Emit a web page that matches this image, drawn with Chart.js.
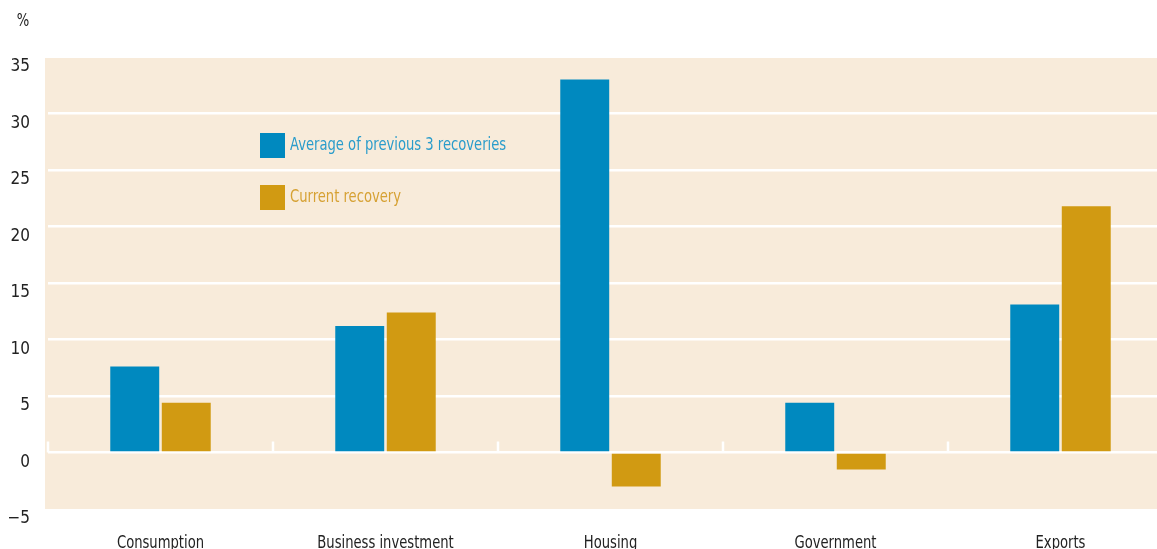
<!DOCTYPE html>
<html>
<head>
<meta charset="utf-8">
<script src="https://cdn.jsdelivr.net/npm/chart.js@4.4.1/dist/chart.umd.min.js"></script>
<style>
  html, body { margin: 0; padding: 0; background: #fff; overflow: hidden; }
  #wrap { position: relative; width: 1190px; height: 562px; }
</style>
</head>
<body>
<div id="wrap"><canvas id="recoveryChart"></canvas></div>
<script>
// components of GDP growth, % change since the trough
const categories = ["Consumption", "Business investment", "Housing", "Government", "Exports"];
const previousRecoveries = [7.6, 11.2, 33.0, 4.4, 13.1];
const currentRecovery = [4.4, 12.4, -3.0, -1.5, 21.8];
const seriesNames = ["Average of previous 3 recoveries", "Current recovery"];
const yTicks = [-5, 0, 5, 10, 15, 20, 25, 30, 35];

const FONT = "'Liberation Sans Narrow', 'DejaVu Sans Condensed', 'Roboto', sans-serif";
const BLUE = "#0089bf";
const GOLD = "#d19a12";
const PANEL = "#f8ebda";
const NARROW = 0.86; // squeeze text sideways, no condensed face installed

function narrowText(ctx, text, x, y, align) {
  const w = ctx.measureText(text).width * NARROW;
  const start = align === "center" ? x - w / 2 : x;
  ctx.save();
  ctx.translate(start, y);
  ctx.scale(NARROW, 1);
  ctx.textAlign = "left";
  ctx.fillText(text, 0, 0);
  ctx.restore();
}

// beige panel behind the plot, ticks on the zero line, legend, x labels and % label
const decorations = {
  id: "decorations",
  beforeDraw(chart) {
    const { ctx, chartArea } = chart;
    ctx.save();
    ctx.fillStyle = PANEL;
    ctx.fillRect(chartArea.left - 3, chartArea.top + 1, chart.width, chartArea.bottom - chartArea.top - 1);
    ctx.restore();
  },
  beforeDatasetsDraw(chart) {
    const { ctx } = chart;
    const x = chart.scales.x, y = chart.scales.y;
    const zero = y.getPixelForValue(0);
    const half = (x.getPixelForValue(1) - x.getPixelForValue(0)) / 2;
    ctx.save();
    ctx.strokeStyle = "#ffffff";
    ctx.lineWidth = 2.5;
    for (let i = 0; i <= categories.length; i++) {
      const px = x.getPixelForValue(i) - half;
      ctx.beginPath();
      ctx.moveTo(px, zero);
      ctx.lineTo(px, zero - 11);
      ctx.stroke();
    }
    ctx.restore();
  },
  afterDatasetsDraw(chart) {
    const { ctx, chartArea } = chart;
    const x = chart.scales.x;
    ctx.save();
    const lx = chartArea.left + 212;
    const items = [
      { label: seriesNames[0], box: BLUE, text: "#2a9ccb", top: chartArea.top + 76 },
      { label: seriesNames[1], box: GOLD, text: "#d6a133", top: chartArea.top + 128 }
    ];
    ctx.font = "17px " + FONT;
    ctx.textBaseline = "middle";
    items.forEach(it => {
      ctx.fillStyle = it.box;
      ctx.fillRect(lx, it.top, 25, 25);
      ctx.fillStyle = it.text;
      narrowText(ctx, it.label, lx + 30, it.top + 13, "left");
    });

    // category labels under the panel
    ctx.fillStyle = "#222";
    ctx.textBaseline = "alphabetic";
    categories.forEach((c, i) => {
      narrowText(ctx, c, x.getPixelForValue(i), chartArea.bottom + 39, "center");
    });

    ctx.textBaseline = "middle";
    narrowText(ctx, "%", 23, 22, "center");
    ctx.restore();
  }
};

new Chart(document.getElementById("recoveryChart"), {
  type: "bar",
  data: {
    labels: categories,
    datasets: [
      { label: seriesNames[0], data: previousRecoveries, backgroundColor: BLUE },
      { label: seriesNames[1], data: currentRecovery, backgroundColor: GOLD }
    ]
  },
  options: {
    responsive: true,
    maintainAspectRatio: false,
    animation: false,
    layout: { padding: { top: 57, right: 17, left: 0, bottom: 0 } },
    datasets: { bar: { categoryPercentage: 0.458, barPercentage: 0.95 } },
    plugins: { legend: { display: false }, tooltip: { enabled: false } },
    scales: {
      x: {
        grid: { display: false },
        border: { display: false },
        ticks: { display: false },
        afterFit(scale) { scale.height = 53; }
      },
      y: {
        min: yTicks[0],
        max: yTicks[yTicks.length - 1],
        afterBuildTicks(scale) { scale.ticks = yTicks.map(v => ({ value: v })); },
        grid: {
          color: c => (c.tick && (c.tick.value === yTicks[0] || c.tick.value === yTicks[yTicks.length - 1])) ? "rgba(0,0,0,0)" : "#ffffff",
          lineWidth: 2.5,
          drawTicks: false
        },
        border: { display: false },
        ticks: {
          color: "#222",
          font: { family: FONT, size: 17 },
          padding: 18,
          labelOffset: 10,
          callback: v => String(v).replace("-", "\u2212")
        },
        afterFit(scale) { scale.width = 48; }
      }
    }
  },
  plugins: [decorations]
});
</script>
</body>
</html>
